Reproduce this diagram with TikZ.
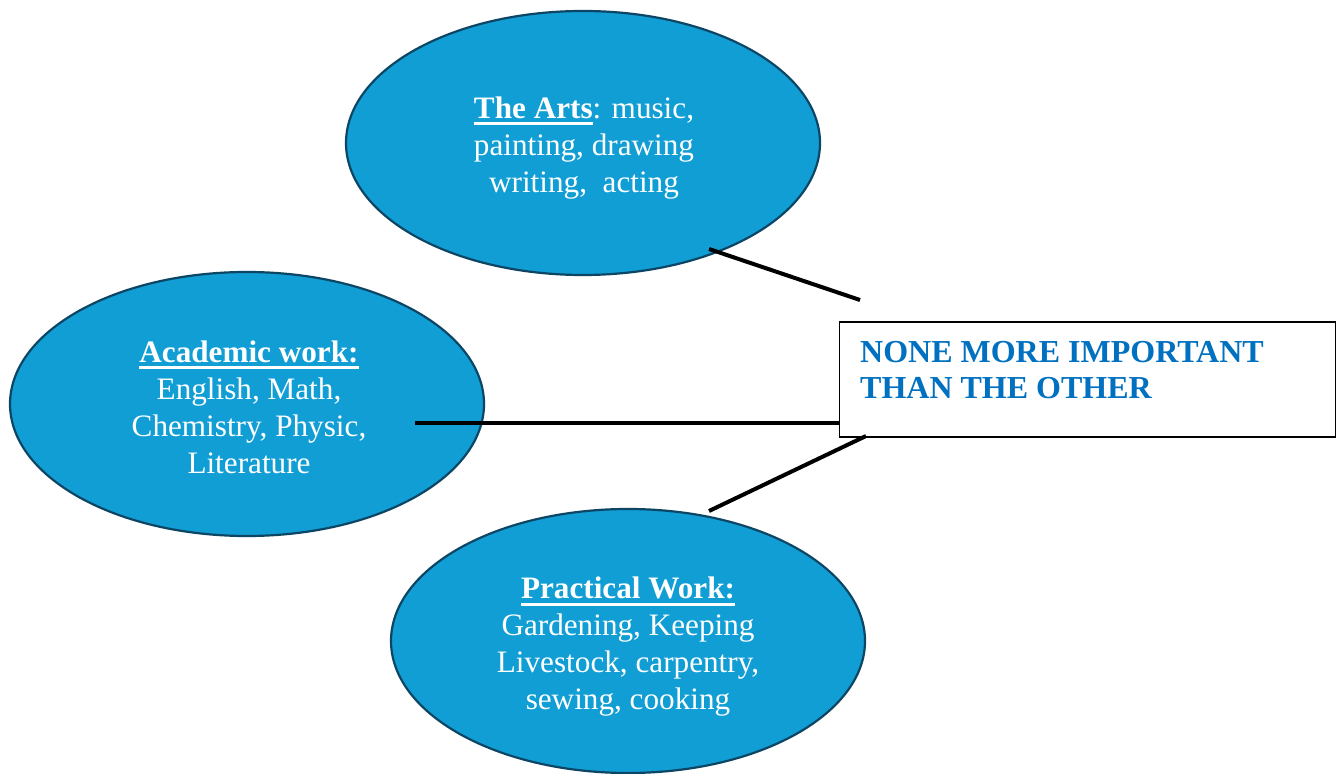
\documentclass[tikz,border=0pt]{standalone}
\usepackage{fontspec}
\setmainfont{Liberation Serif}
\usetikzlibrary{shapes.geometric,positioning}
\newcommand{\headline}[1]{\setbox0\hbox{\textbf{#1}}\rlap{\rule[-3.5pt]{\wd0}{1.5pt}}\box0}
\begin{document}
\begin{tikzpicture}[x=0.5pt,y=-0.5pt]
  % colors
  \definecolor{kBlue}{RGB}{17,158,213}
  \definecolor{kEdge}{RGB}{12,70,100}
  \definecolor{kText}{RGB}{0,112,192}
  \tikzset{
    area/.style={ellipse,draw=kEdge,line width=1.1pt,fill=kBlue,text=white,
      minimum width=237pt,minimum height=132pt,align=center,inner sep=0pt,
      font=\fontsize{15.6}{18.5}\selectfont},
    link/.style={line width=2pt,black},
  }
  \useasboundingbox (0,0) rectangle (1337,774);
  % shape
  \node[area] (arts) at (583,143) {};
  \node[area] (acad) at (247,404) {};
  \node[area] (work) at (628,641) {};
  % texts
  \node[area,draw=none,fill=none] (artsText) at (584,148) {\headline{The Arts}: music,\\ painting, drawing\\ writing, \ acting};
  \node[area,draw=none,fill=none] (acadText) at (249,407) {\headline{Academic work:}\\ English, Math,\\ Chemistry, Physic,\\ Literature};
  \node[area,draw=none,fill=none] (workText) at (628,647) {\headline{Practical Work:}\\ Gardening, Keeping\\ Livestock, carpentry,\\ sewing, cooking};

  \node[draw,fill=white,line width=0.75pt,minimum width=248pt,minimum height=57.5pt,inner sep=0pt] (box) at (1087.5,379.5) {};
  \node[anchor=north west,inner sep=0pt,text=kText,align=left,
    font=\bfseries\fontsize{16}{18}\selectfont] (boxtext)
    at ([xshift=10.5pt,yshift=-10pt]box.north west) {NONE MORE IMPORTANT\\THAN THE OTHER};

  % links
  \coordinate (artsLink) at (709,249);
  \coordinate (artsEnd) at (860,300);
  \coordinate (acadLink) at (415,423);
  \coordinate (acadEnd) at (box.west |- acadLink);
  \coordinate (workLink) at (709,511);
  \coordinate (workEnd) at (866,436);
  \foreach \a/\b in {artsLink/artsEnd,acadLink/acadEnd,workLink/workEnd} {
    \draw[link] (\a) -- (\b);
  };
\end{tikzpicture}
\end{document}
